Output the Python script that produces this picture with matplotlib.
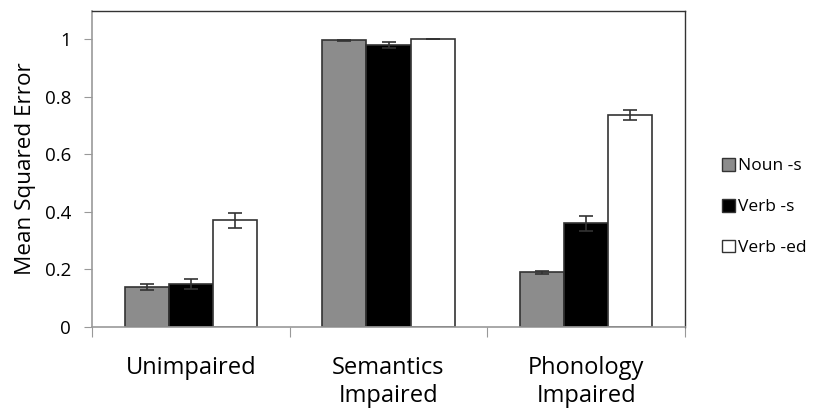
import matplotlib
matplotlib.use("Agg")
import matplotlib.pyplot as plt
import numpy as np
from matplotlib.patches import Patch

plt.rcParams['font.family'] = ['Open Sans', 'DejaVu Sans']

groups = ["Unimpaired", "Semantics\nImpaired", "Phonology\nImpaired"]
series = ["Noun -s", "Verb -s", "Verb -ed"]
noun_s = [0.14, 0.995, 0.19]
verb_s = [0.15, 0.98, 0.36]
verb_ed = [0.37, 1.0, 0.735]
noun_s_err = [0.01, 0.002, 0.005]
verb_s_err = [0.017, 0.01, 0.025]
verb_ed_err = [0.025, 0.001, 0.017]
yticks = [0, 0.2, 0.4, 0.6, 0.8, 1]
ytick_labels = ["0", "0.2", "0.4", "0.6", "0.8", "1"]

colors = ["#8c8c8c", "#000000", "#ffffff"]

fig = plt.figure(figsize=(8.13, 4.12), dpi=100)
ax = fig.add_axes([92/813, 1-327/412, (685-92)/813, (327-11)/412])

x = np.arange(len(groups))
w = 0.223
vals = [noun_s, verb_s, verb_ed]
errs = [noun_s_err, verb_s_err, verb_ed_err]
for i, (v, e, c) in enumerate(zip(vals, errs, colors)):
    ax.bar(x + (i-1)*w, v, w, color=c, edgecolor="#333333", linewidth=1.2,
           yerr=e, capsize=5, error_kw=dict(ecolor="#333333", elinewidth=1.2, capthick=1.2),
           label=series[i], zorder=2)

ax.set_xlim(-0.5, 2.5)
ax.set_ylim(0, 1.097)
ax.set_yticks(yticks)
ax.set_yticklabels(ytick_labels, fontsize=13.5)
ax.set_xticks([-0.5, 0.5, 1.5, 2.5])
ax.set_xticklabels([])
ax.set_xticks(x, minor=True)
ax.set_xticklabels(groups, minor=True, fontsize=17, linespacing=1.2)
ax.tick_params(axis='x', which='minor', length=0, pad=21)
ax.tick_params(axis='x', which='major', length=7, color="#999999", direction='out')
ax.tick_params(axis='y', length=6, color="#999999", direction='out', pad=9)
ax.set_ylabel("Mean Squared Error", fontsize=16.2, labelpad=6)

for s in ['left', 'bottom']:
    ax.spines[s].set_color("#999999")
    ax.spines[s].set_linewidth(1.2)
for s in ['top', 'right']:
    ax.spines[s].set_color("#333333")
    ax.spines[s].set_linewidth(1.0)

handles = [Patch(facecolor=c, edgecolor="#333333", linewidth=1.0) for c in colors]
fig.legend(handles, series, loc='center left', bbox_to_anchor=(722/813, 1-207/412),
           frameon=False, fontsize=12.5, handlelength=0.75, handleheight=0.75,
           handletextpad=0.2, labelspacing=1.4, borderaxespad=0, borderpad=0)

fig.savefig("out.png", dpi=100)
